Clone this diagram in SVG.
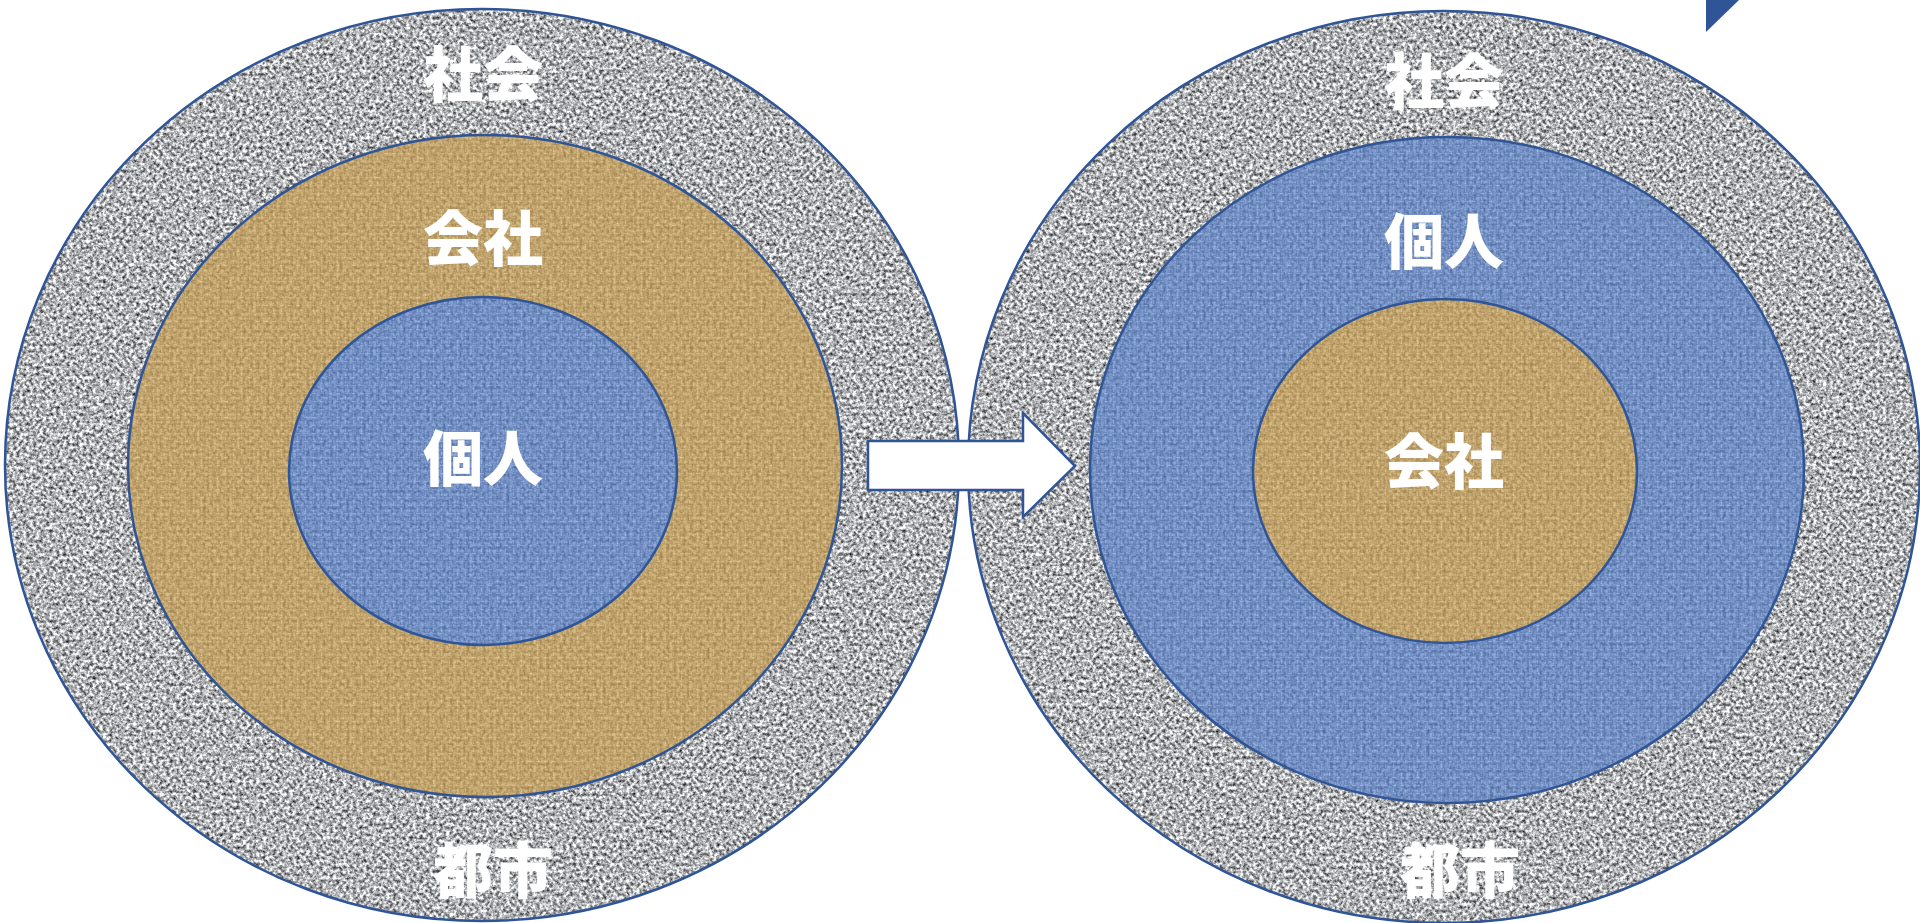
<svg xmlns="http://www.w3.org/2000/svg" width="1920" height="923" viewBox="0 0 1920 923">
  <style>
    .ring { stroke: #2F5597; stroke-width: 2.5; }
    .lbl { font-family: "Noto Sans CJK JP", "Noto Sans CJK SC", sans-serif; font-weight: 900; font-size: 60px; fill: #FFFFFF; text-anchor: middle; }
    .arrow { fill: #FFFFFF; stroke: #2F5597; stroke-width: 2.5; stroke-linejoin: miter; }
  </style>
  <defs>
    <filter id="granite" x="0" y="0" width="1" height="1" color-interpolation-filters="sRGB">
      <feTurbulence type="fractalNoise" baseFrequency="0.3" numOctaves="3" seed="7" result="n"/>
      <feColorMatrix in="n" type="matrix" values="1.5 0 0 0 -0.06  1.5 0 0 0 -0.055  1.5 0 0 0 -0.045  0 0 0 0 1" result="g"/>
      <feComposite in="g" in2="SourceAlpha" operator="in"/>
    </filter>
    <filter id="grain" x="0" y="0" width="1" height="1" color-interpolation-filters="sRGB">
      <feTurbulence type="fractalNoise" baseFrequency="0.3" numOctaves="2" seed="3" result="n"/>
      <feColorMatrix in="n" type="matrix" values="1.8 0 0 0 -0.4  1.8 0 0 0 -0.4  1.8 0 0 0 -0.4  0 0 0 0 1" result="g"/>
      <feComposite in="g" in2="SourceAlpha" operator="in"/>
    </filter>
    <pattern id="burlap" width="8" height="8" patternUnits="userSpaceOnUse">
      <rect width="8" height="8" fill="#A9813F"/>
      <rect x="0" y="0.5" width="4" height="1.3" fill="#EACB8A"/>
      <rect x="0" y="2.3" width="4" height="1.3" fill="#DDBA74"/>
      <rect x="4.5" y="0" width="1.3" height="4" fill="#DDBA74"/>
      <rect x="6.3" y="0" width="1.3" height="4" fill="#EACB8A"/>
      <rect x="0.5" y="4" width="1.3" height="4" fill="#EACB8A"/>
      <rect x="2.3" y="4" width="1.3" height="4" fill="#DDBA74"/>
      <rect x="4" y="4.5" width="4" height="1.3" fill="#DDBA74"/>
      <rect x="4" y="6.3" width="4" height="1.3" fill="#EACB8A"/>
    </pattern>
    <pattern id="weave" width="8" height="8" patternUnits="userSpaceOnUse">
      <rect width="8" height="8" fill="#3F62A8"/>
      <rect x="0" y="0.5" width="4" height="1.3" fill="#98B9F0"/>
      <rect x="0" y="2.3" width="4" height="1.3" fill="#7FA2E2"/>
      <rect x="4.5" y="0" width="1.3" height="4" fill="#7FA2E2"/>
      <rect x="6.3" y="0" width="1.3" height="4" fill="#98B9F0"/>
      <rect x="0.5" y="4" width="1.3" height="4" fill="#98B9F0"/>
      <rect x="2.3" y="4" width="1.3" height="4" fill="#7FA2E2"/>
      <rect x="4" y="4.5" width="4" height="1.3" fill="#7FA2E2"/>
      <rect x="4" y="6.3" width="4" height="1.3" fill="#98B9F0"/>
    </pattern>
  </defs>

  <rect width="1920" height="923" fill="#FFFFFF"/>

  <!-- Left diagram -->
  <g id="left-society-city">
    <ellipse cx="482" cy="465" rx="477" ry="456" fill="#999" filter="url(#granite)"/>
    <ellipse class="ring" cx="482" cy="465" rx="477" ry="456" fill="none"/>
    <text class="lbl" x="483" y="97">社会</text>
    <text class="lbl" x="493" y="893">都市</text>
  </g>
  <g id="left-company">
    <ellipse cx="485" cy="466" rx="357" ry="331" fill="url(#burlap)"/>
    <ellipse cx="485" cy="466" rx="357" ry="331" fill="#000" filter="url(#grain)" opacity="0.18"/>
    <ellipse class="ring" cx="485" cy="466" rx="357" ry="331" fill="none"/>
    <text class="lbl" x="483" y="261">会社</text>
  </g>
  <g id="left-individual">
    <ellipse cx="483" cy="471" rx="194" ry="174" fill="url(#weave)"/>
    <ellipse cx="483" cy="471" rx="194" ry="174" fill="#000" filter="url(#grain)" opacity="0.18"/>
    <ellipse class="ring" cx="483" cy="471" rx="194" ry="174" fill="none"/>
    <text class="lbl" x="483" y="481">個人</text>
  </g>

  <!-- Right diagram -->
  <g id="right-society-city">
    <ellipse cx="1444" cy="467" rx="476" ry="456" fill="#999" filter="url(#granite)"/>
    <ellipse class="ring" cx="1444" cy="467" rx="476" ry="456" fill="none"/>
    <text class="lbl" x="1444" y="104">社会</text>
    <text class="lbl" x="1460" y="893">都市</text>
  </g>
  <g id="right-individual">
    <ellipse cx="1447" cy="470" rx="357" ry="333" fill="url(#weave)"/>
    <ellipse cx="1447" cy="470" rx="357" ry="333" fill="#000" filter="url(#grain)" opacity="0.18"/>
    <ellipse class="ring" cx="1447" cy="470" rx="357" ry="333" fill="none"/>
    <text class="lbl" x="1444" y="264">個人</text>
  </g>
  <g id="right-company">
    <ellipse cx="1445" cy="471" rx="192" ry="172" fill="url(#burlap)"/>
    <ellipse cx="1445" cy="471" rx="192" ry="172" fill="#000" filter="url(#grain)" opacity="0.18"/>
    <ellipse class="ring" cx="1445" cy="471" rx="192" ry="172" fill="none"/>
    <text class="lbl" x="1444" y="484">会社</text>
  </g>

  <!-- Connectors -->
  <g id="connectors">
    <polygon class="arrow" points="868,441 1023,441 1023,413 1075,466 1023,517 1023,490 868,490"/>
  </g>

  <!-- Partial corner shape -->
  <polygon points="1706,0 1739,0 1706,32" fill="#2F5597"/>
</svg>
